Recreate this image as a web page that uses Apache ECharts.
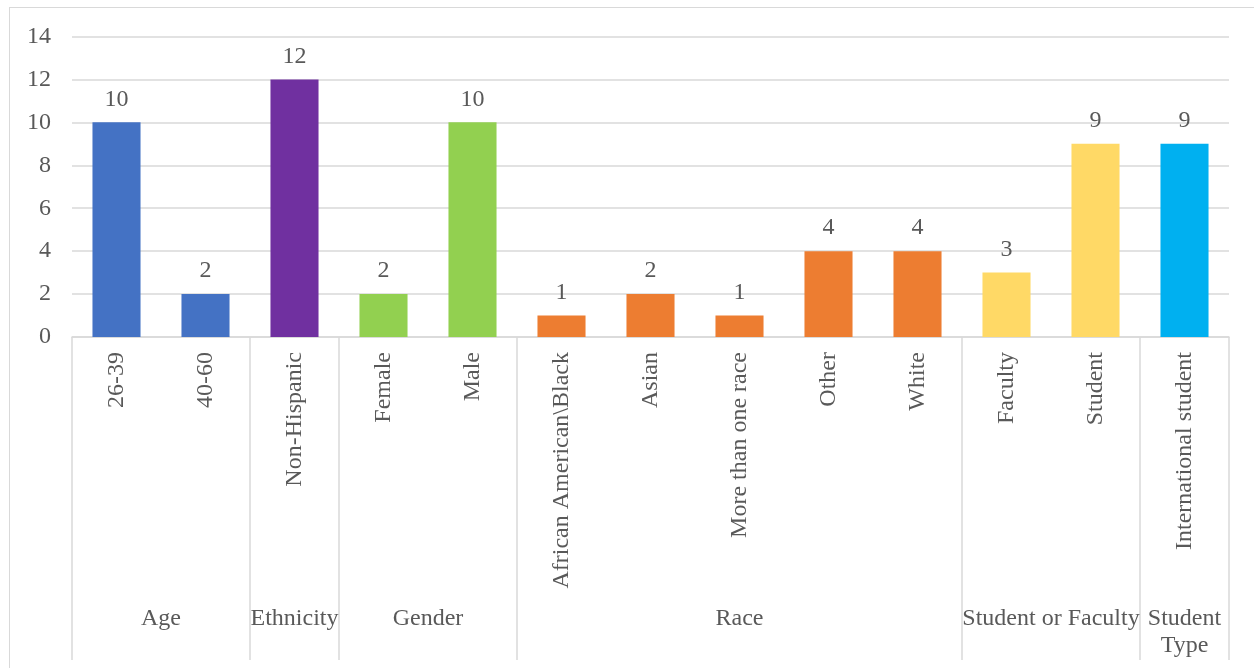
<!DOCTYPE html>
<html>
<head>
<meta charset="utf-8">
<script src="https://cdn.jsdelivr.net/npm/echarts@6/dist/echarts.min.js"></script>
<style>
html,body{margin:0;padding:0;background:#fff;overflow:hidden;}
#chart{width:1254px;height:668px;position:absolute;left:0;top:0;}
#frame{position:absolute;left:9px;top:7px;width:1400px;height:800px;border:1px solid #d9d9d9;pointer-events:none;}
</style>
</head>
<body>
<div id="chart"></div>
<div id="frame"></div>
<script>
// ---- data ----
const categories = ['26-39','40-60','Non-Hispanic','Female','Male','African American\\Black','Asian','More than one race','Other','White','Faculty','Student','International student'];
const values = [10, 2, 12, 2, 10, 1, 2, 1, 4, 4, 3, 9, 9];
const groupNames = ['Age','Ethnicity','Gender','Race','Student or Faculty','Student\nType'];
const groupSpans = [2, 1, 2, 5, 2, 1];
const groupColors = ['#4472C4','#7030A0','#92D050','#ED7D31','#FFD966','#00B0F0'];
const yTicks = {min: 0, max: 14, interval: 2};

// ---- derived tables ----
const barColors = [];
groupSpans.forEach((s, g) => { for (let i = 0; i < s; i++) barColors.push(groupColors[g]); });

// half-category slots (2 per category) -> 2*N+1 points on a boundaryGap:false axis
const nPts = categories.length * 2 + 1;
const groupAxisData = new Array(nPts).fill('');
const boundaryIdx = new Set([0]);
const labelIdx = new Set();
let acc = 0;
groupSpans.forEach((s, g) => {
  const center = acc * 2 + s; // in half-slot units
  groupAxisData[center] = groupNames[g];
  labelIdx.add(center);
  acc += s;
  boundaryIdx.add(acc * 2);
});

const txt = '#595959';
const font = 'Liberation Serif';
const fs = 24;
const chart = echarts.init(document.getElementById('chart'));
chart.setOption({
  animation: false,
  textStyle: {fontFamily: font},
  grid: {left: 72, right: 25, top: 36.5, bottom: 331, containLabel: false},
  xAxis: [
    {
      type: 'category',
      position: 'bottom',
      data: categories,
      axisLine: {show: true, lineStyle: {color: '#d9d9d9', width: 1.5}},
      axisTick: {show: false},
      axisLabel: {
        interval: 0, rotate: 90, margin: 15,
        color: txt, fontFamily: font, fontSize: fs
      }
    },
    {
      type: 'category',
      position: 'bottom',
      offset: 0,
      boundaryGap: false,
      data: groupAxisData,
      axisLine: {show: false},
      axisTick: {
        show: true, length: 323,
        interval: (i) => boundaryIdx.has(i),
        lineStyle: {color: '#d9d9d9', width: 1.5}
      },
      axisLabel: {
        interval: (i) => labelIdx.has(i),
        hideOverlap: false,
        margin: 268, color: txt, fontFamily: font, fontSize: fs, lineHeight: 27,
        showMinLabel: true, showMaxLabel: true
      }
    }
  ],
  yAxis: {
    type: 'value',
    min: yTicks.min, max: yTicks.max, interval: yTicks.interval,
    axisLine: {show: false},
    axisTick: {show: false},
    splitLine: {lineStyle: {color: '#d9d9d9', width: 1.5}},
    axisLabel: {color: txt, fontFamily: font, fontSize: fs, margin: 21}
  },
  series: [{
    type: 'bar',
    xAxisIndex: 0,
    data: values.map((v, i) => ({value: v, itemStyle: {color: barColors[i]}})),
    barWidth: '54%',
    label: {
      show: true, position: 'top', distance: 11,
      color: txt, fontFamily: font, fontSize: fs
    }
  }]
});
</script>
</body>
</html>
